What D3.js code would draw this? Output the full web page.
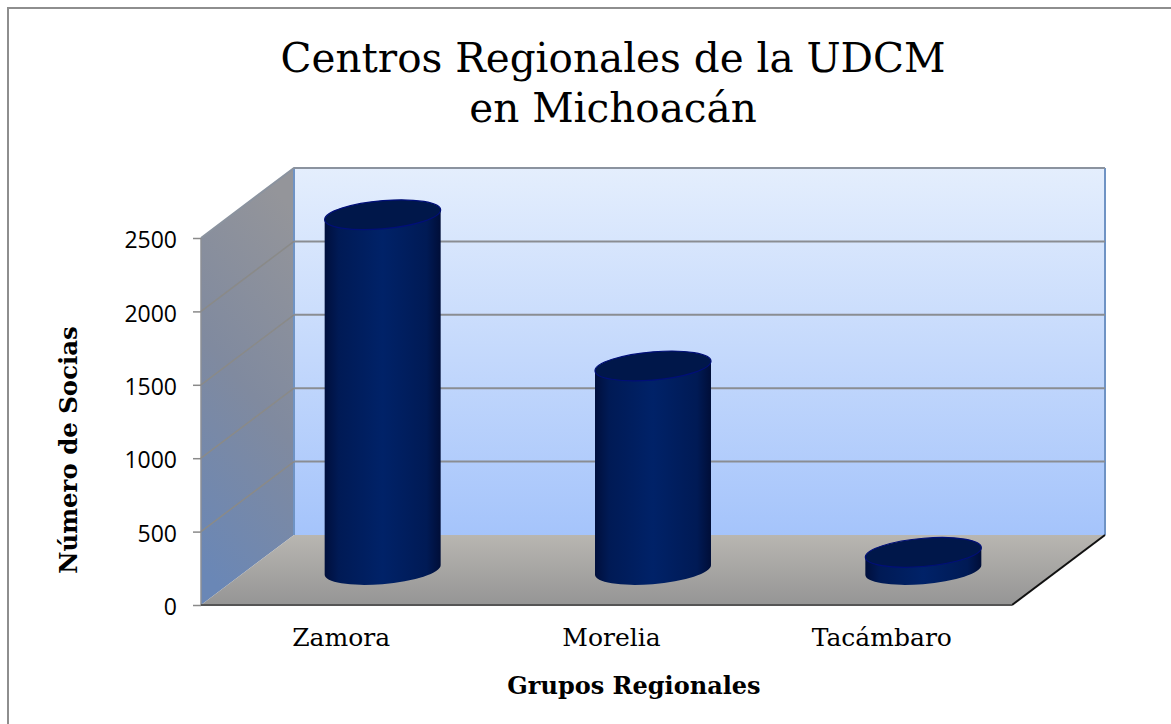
<!DOCTYPE html>
<html>
<head>
<meta charset="utf-8">
<script src="https://cdn.jsdelivr.net/npm/d3@7"></script>
<style>
    html, body { margin: 0; padding: 0; background: #fff; }
    svg { display: block; }
    .serif { font-family: "DejaVu Serif", serif; fill: #000; }
    .tick text { font-family: "Open Sans", sans-serif; font-size: 23px; fill: #000; }
</style>
</head>
<body>
<div id="chart"></div>
<script>
var categories = ['Zamora', 'Morelia', 'Tacámbaro'];
var socias = [2420, 1390, 120];
var yTicks = [0, 500, 1000, 1500, 2000, 2500];
var titleLines = ['Centros Regionales de la UDCM', 'en Michoacán'];

var width = 1171, height = 724;
// front plane of the 3d box, the back wall sits at depth.x / depth.y from it
var left = 201, right = 1012, bottom = 605, top_ = 238;
var depth = {x: 93, y: -70};

var svg = d3.select('#chart').append('svg')
    .attr('width', width)
    .attr('height', height);

var x = d3.scaleBand().domain(categories).range([left, right]);
var y = d3.scaleLinear().domain([0, 2500]).range([bottom, top_]);

// gradients
var defs = svg.append('defs');
function gradient(id, x1, y1, x2, y2, stops) {
    var g = defs.append('linearGradient').attr('id', id)
        .attr('x1', x1).attr('y1', y1).attr('x2', x2).attr('y2', y2);
    stops.forEach(function(s) {
        g.append('stop').attr('offset', s[0]).attr('stop-color', s[1]);
    });
}
gradient('wallGrad', 0, 0, 0, 1, [[0, '#e4eefd'], [1, '#a5c4fb']]);
gradient('sideGrad', 0.6, 0, 0.35, 1, [[0, '#94959a'], [0.5, '#808a9f'], [1, '#6a87b6']]);
gradient('floorGrad', 0, 0, 0, 1, [[0, '#b8b6b1'], [1, '#959595']]);
gradient('bodyGrad', 0, 0, 1, 0, [[0, '#000f3c'], [0.12, '#001a55'], [0.5, '#002268'], [0.88, '#001a55'], [1, '#000e38']]);

// frame, only left and top edges show in the picture
svg.append('path')
    .attr('d', 'M8,' + height + 'V8H' + width)
    .attr('fill', 'none')
    .attr('stroke', '#8e8e8e')
    .attr('stroke-width', 2);

// title
svg.selectAll('.title').data(titleLines).enter().append('text')
    .attr('class', 'title serif')
    .attr('x', 613)
    .attr('y', function(d, i) { return 72 + i * 50; })
    .attr('text-anchor', 'middle')
    .attr('font-size', 40.5)
    .text(function(d) { return d; });

var line = d3.line();

// back wall
svg.append('path')
    .attr('d', line([[left + depth.x, y(2500) + depth.y], [right + depth.x, y(2500) + depth.y],
        [right + depth.x, bottom + depth.y], [left + depth.x, bottom + depth.y]]) + 'Z')
    .attr('fill', 'url(#wallGrad)');

// side wall
svg.append('path')
    .attr('d', line([[left, y(2500)], [left + depth.x, y(2500) + depth.y],
        [left + depth.x, bottom + depth.y], [left, bottom]]) + 'Z')
    .attr('fill', 'url(#sideGrad)');

// floor
svg.append('path')
    .attr('d', line([[left, bottom], [left + depth.x, bottom + depth.y],
        [right + depth.x, bottom + depth.y], [right, bottom]]) + 'Z')
    .attr('fill', 'url(#floorGrad)');

// wall edges
svg.append('path')
    .attr('d', line([[left + depth.x, bottom + depth.y], [left + depth.x, y(2500) + depth.y]]))
    .attr('stroke', '#6f93c4').attr('stroke-width', 2).attr('fill', 'none');
svg.append('path')
    .attr('d', line([[right + depth.x, y(2500) + depth.y], [right + depth.x, bottom + depth.y]]))
    .attr('stroke', '#6f93c4').attr('stroke-width', 2).attr('fill', 'none');
svg.append('path')
    .attr('d', line([[left, y(2500)], [left + depth.x, y(2500) + depth.y], [right + depth.x, y(2500) + depth.y]]))
    .attr('stroke', '#8b939f').attr('stroke-width', 2).attr('fill', 'none');
svg.append('path')
    .attr('d', line([[left, y(2500)], [left, bottom]]))
    .attr('stroke', '#8c8f96').attr('stroke-width', 1.5).attr('fill', 'none');

// gridlines, back wall then side wall
var gridTicks = yTicks.filter(function(d) { return d > 0 && d < 2500; });
svg.selectAll('.gridBack').data(gridTicks).enter().append('line')
    .attr('class', 'gridBack')
    .attr('x1', left + depth.x).attr('x2', right + depth.x)
    .attr('y1', function(d) { return y(d) + depth.y; })
    .attr('y2', function(d) { return y(d) + depth.y; })
    .attr('stroke', '#8a8d92').attr('stroke-width', 2);
svg.selectAll('.gridSide').data(gridTicks).enter().append('line')
    .attr('class', 'gridSide')
    .attr('x1', left).attr('x2', left + depth.x)
    .attr('y1', function(d) { return y(d); })
    .attr('y2', function(d) { return y(d) + depth.y; })
    .attr('stroke', '#8a8a88').attr('stroke-width', 1.5);

// floor front and right edges
svg.append('path')
    .attr('d', line([[right, bottom], [right + depth.x, bottom + depth.y]]))
    .attr('stroke', '#111').attr('stroke-width', 2).attr('fill', 'none');
svg.append('path')
    .attr('d', line([[left, bottom], [right, bottom]]))
    .attr('stroke', '#555').attr('stroke-width', 2).attr('fill', 'none');

// cylinders
var rx = 58, ry = 14, tilt = -5;
var tipDy = 4.7;   // how far the side tangent points sit off the ellipse centre
var halfW = 58;

function ellipseArc(cx, cy) {
    var a = 'A' + rx + ',' + ry + ',' + tilt + ',0,';
    return 'M' + (cx - halfW) + ',' + (cy + tipDy) + a + '1,' + (cx + halfW) + ',' + (cy - tipDy) +
        a + '1,' + (cx - halfW) + ',' + (cy + tipDy) + 'Z';
}
function bodyPath(cx, cyTop, cyBase) {
    var a = 'A' + rx + ',' + ry + ',' + tilt + ',0,';
    return 'M' + (cx - halfW) + ',' + (cyTop + tipDy) +
        'L' + (cx - halfW) + ',' + (cyBase + tipDy) +
        a + '0,' + (cx + halfW) + ',' + (cyBase - tipDy) +
        'L' + (cx + halfW) + ',' + (cyTop - tipDy) + 'Z';
}

var bars = svg.selectAll('.bar').data(categories).enter().append('g').attr('class', 'bar');
bars.append('path')
    .attr('d', function(d, i) {
        var cx = x(d) + x.bandwidth() / 2 + depth.x / 2;
        return bodyPath(cx, y(socias[i]) + depth.y / 2, y(0) + depth.y / 2);
    })
    .attr('fill', 'url(#bodyGrad)');
bars.append('path')
    .attr('d', function(d, i) {
        var cx = x(d) + x.bandwidth() / 2 + depth.x / 2;
        return ellipseArc(cx, y(socias[i]) + depth.y / 2);
    })
    .attr('fill', '#00174a')
    .attr('stroke', '#000f78')
    .attr('stroke-width', 1.2);

// value axis, drawn on the front edge of the side wall
var yAxis = d3.axisLeft(y).tickValues(yTicks).tickSize(8).tickPadding(16).tickFormat(d3.format('d'));
var yG = svg.append('g').attr('transform', 'translate(' + left + ',0)').call(yAxis);
yG.select('.domain').remove();
yG.selectAll('.tick line').attr('stroke', '#8a8a8a').attr('stroke-width', 1.5);
yG.selectAll('.tick text').attr('dy', '0.42em');

// category labels
svg.selectAll('.cat').data(categories).enter().append('text')
    .attr('class', 'cat serif')
    .attr('x', function(d) { return x(d) + x.bandwidth() / 2 + 5; })
    .attr('y', 646)
    .attr('text-anchor', 'middle')
    .attr('font-size', 25)
    .text(function(d) { return d; });

// axis titles
svg.append('text')
    .attr('class', 'serif')
    .attr('x', 634).attr('y', 694)
    .attr('text-anchor', 'middle')
    .attr('font-size', 24)
    .attr('font-weight', 'bold')
    .text('Grupos Regionales');
svg.append('text')
    .attr('class', 'serif')
    .attr('transform', 'translate(77,450) rotate(-90)')
    .attr('text-anchor', 'middle')
    .attr('font-size', 24.4)
    .attr('font-weight', 'bold')
    .text('Número de Socias');
</script>
</body>
</html>
